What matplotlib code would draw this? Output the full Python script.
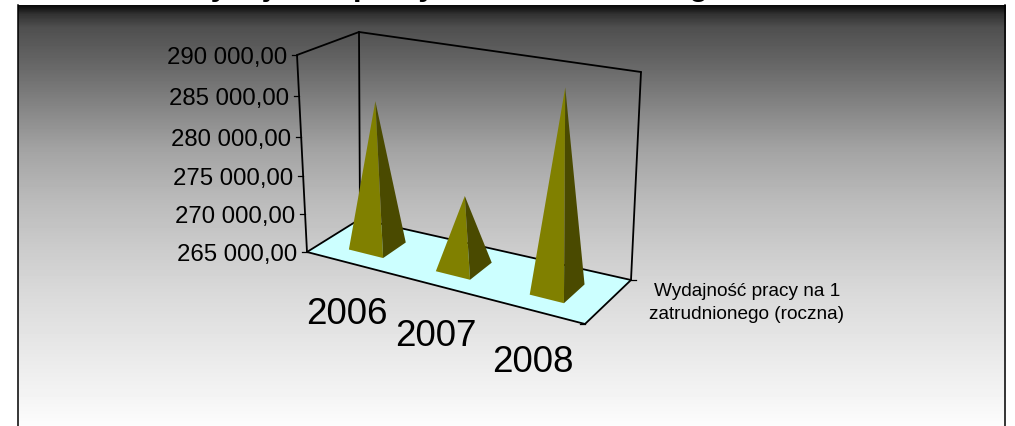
import numpy as np
import matplotlib
matplotlib.use("Agg")
import matplotlib.pyplot as plt

plt.rcParams['font.family'] = ['Liberation Sans', 'DejaVu Sans']

# --- data ---
years = ['2006', '2007', '2008']
wydajnosc = [283800, 274100, 289100]
tick_values = [265000, 270000, 275000, 280000, 285000, 290000]
tick_labels = ['265 000,00', '270 000,00', '275 000,00', '280 000,00', '285 000,00', '290 000,00']
legend_text = 'Wydajność pracy na 1\nzatrudnionego (roczna)'
title_text = 'Wydajność pracy na 1 zatrudnionego'

v_min, v_max = 265000, 290000

# box corners in pixels, (u, depth, height)
corners = {
    (0, 0, 0): (307, 253), (1, 0, 0): (585, 325),
    (0, 1, 0): (360, 220), (1, 1, 0): (631, 281),
    (0, 0, 1): (297, 56),  (1, 0, 1): (598, 104),
    (0, 1, 1): (359, 33),  (1, 1, 1): (641, 73),
}
bar_u = [0.16, 0.475, 0.815]
label_u = [0.1667, 0.485, 0.835]
du, dw = 0.062, 0.22


def project(u, w, v):
    # trilinear blend of the 8 box corners
    p = np.zeros(2)
    for (a, b, c), xy in corners.items():
        k = (u if a else 1 - u) * (w if b else 1 - w) * (v if c else 1 - v)
        p += k * np.array(xy)
    return p


def scale(val):
    # slight perspective squeeze of the value axis
    v = (val - v_min) / (v_max - v_min)
    return v / (1 + 0.06 * (1 - v))


fig = plt.figure(figsize=(10.15, 4.27), dpi=100, facecolor='white')
ax = fig.add_axes([0, 0, 1, 1])
ax.set_xlim(0, 1015)
ax.set_ylim(427, 0)
ax.axis('off')

# background gradient
rows = np.arange(6, 427)
shade = np.interp(rows, [6, 15, 28, 60, 100, 150, 200, 250, 300, 350, 400, 427],
                  [0.04, 0.2, 0.31, 0.39, 0.5, 0.64, 0.73, 0.8, 0.86, 0.91, 0.96, 0.99])
ax.imshow(shade[:, None], cmap='gray', vmin=0, vmax=1, aspect='auto',
          extent=(18, 1006, 427, 6), zorder=0)
ax.set_xlim(0, 1015)
ax.set_ylim(427, 0)
ax.plot([18.5, 18.5], [6, 427], color='black', lw=1.1, zorder=1)
ax.plot([1005.5, 1005.5], [6, 427], color='black', lw=1.1, zorder=1)

# title, cut by the top of the image
ax.text(182, -5.5, title_text, fontsize=22.2, fontweight='bold', ha='left', va='baseline',
        color='black', clip_on=False, zorder=1)

# floor
floor = [project(0, 0, 0), project(1, 0, 0), project(1, 1, 0), project(0, 1, 0)]
ax.fill([p[0] for p in floor], [p[1] for p in floor], color='#CCFFFF', lw=0, zorder=2)


def edge(a, b):
    pa, pb = project(*a), project(*b)
    ax.plot([pa[0], pb[0]], [pa[1], pb[1]], color='black', lw=1.3, zorder=3,
            solid_capstyle='round')


edge((0, 0, 0), (1, 0, 0))
edge((1, 0, 0), (1, 1, 0))
edge((1, 1, 0), (0, 1, 0))
edge((0, 1, 0), (0, 0, 0))
edge((0, 0, 0), (0, 0, 1))
edge((0, 0, 1), (0, 1, 1))
edge((0, 1, 1), (0, 1, 0))
edge((0, 1, 1), (1, 1, 1))
edge((1, 1, 1), (1, 1, 0))

# value ticks on the left front edge
for val, lab in zip(tick_values, tick_labels):
    p = project(0, 0, scale(val))
    ax.plot([p[0] - 5, p[0]], [p[1], p[1]], color='black', lw=0.9, zorder=3)
    ax.text(p[0] - 10, p[1] + 2, lab, fontsize=17.3, ha='right', va='center', color='black', zorder=4)

# small ticks on the floor corners
fr, br = project(1, 0, 0), project(1, 1, 0)
ax.plot([fr[0] - 5, fr[0]], [fr[1], fr[1]], color='black', lw=0.9, zorder=3)
ax.plot([br[0], br[0] + 5], [br[1], br[1]], color='black', lw=0.9, zorder=3)

# pyramids
for u, val in zip(bar_u, wydajnosc):
    left = project(u - du, 0.5 - dw, 0)
    front = project(u + du, 0.5 - dw, 0)
    right = project(u + du, 0.5 + dw, 0)
    apex = project(u, 0.5, scale(val))
    ax.fill([left[0], front[0], apex[0]], [left[1], front[1], apex[1]], color='#808000', lw=0, zorder=5)
    ax.fill([front[0], right[0], apex[0]], [front[1], right[1], apex[1]], color='#4A4A00', lw=0, zorder=5)

# year labels under the front edge
for u, year in zip(label_u, years):
    lab_p = project(u, 0, 0)
    ax.text(lab_p[0] - 6, lab_p[1] + 49, year, fontsize=26.5, ha='center', va='center', color='black', zorder=6)

# legend style text
ax.text(747, 303, legend_text, fontsize=13.7, ha='center', va='center', linespacing=1.4,
        color='black', zorder=6)

fig.savefig('out.png', dpi=100, facecolor='white')
